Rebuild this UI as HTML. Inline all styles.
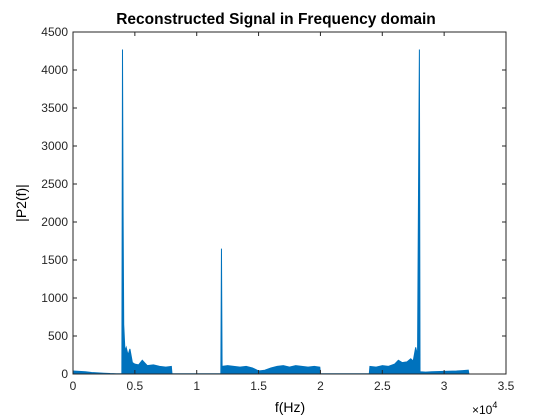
<!DOCTYPE html>
<html><head><meta charset="utf-8"><style>
body{margin:0;background:#fff;}
svg{display:block;font-family:"Liberation Sans",sans-serif;}
</style></head><body>
<svg id="chart" width="560" height="420">
<rect x="0" y="0" width="560" height="420" fill="#fff"/>
<g id="plot"></g>
<g id="axes"></g>
<text x="276" y="24" text-anchor="middle" font-size="15.5" font-weight="bold">Reconstructed Signal in Frequency domain</text>
<text x="290" y="412" text-anchor="middle" font-size="14">f(Hz)</text>
<text x="0" y="0" transform="translate(26,203) rotate(-90)" text-anchor="middle" font-size="14">|P2(f)|</text>
<text x="472" y="414" font-size="12">×10<tspan dy="-6" font-size="9">4</tspan></text>
</svg>
<script>
const freqK=[0,0.5,1,1.5,2,2.5,3,3.5,3.95,4.0,4.05,4.1,4.2,4.3,4.45,4.6,4.8,5.0,5.3,5.6,6,6.5,7,7.5,7.95,8.0,9,10,11,11.95,12.0,12.05,12.5,13,13.5,14,14.5,15,15.5,16,16.5,17,17.5,18,18.5,19,19.5,19.95,20.0,21,22,23,23.95,24.0,24.5,25,25.5,26,26.3,26.6,27,27.3,27.5,27.7,27.85,27.95,28.0,28.05,28.5,29,30,31,31.5,31.95,32.0,33,35];
const mags=[40,35,30,20,15,10,6,4,3,4270,2100,650,300,350,250,330,150,130,120,180,110,120,100,90,100,3,3,3,3,5,1650,100,110,100,90,100,80,40,50,80,100,110,90,110,100,90,100,90,3,3,3,3,3,100,90,110,100,130,180,150,160,200,170,350,250,3000,4270,30,25,30,35,40,45,50,0,0,0];
const xTicks=[0,0.5,1,1.5,2,2.5,3,3.5];
const xTickLabels=["0","0.5","1","1.5","2","2.5","3","3.5"];
const yTicks=[0,500,1000,1500,2000,2500,3000,3500,4000,4500];
const L=73,R=506,T=32,B=374;
const xs=f=>L+f/3.5*(R-L);
const ys=v=>B-v/4500*(B-T);
const NS="http://www.w3.org/2000/svg";
const plot=document.getElementById('plot'),axes=document.getElementById('axes');
function mk(tag,attrs,parent){const e=document.createElementNS(NS,tag);for(const k in attrs)e.setAttribute(k,attrs[k]);parent.appendChild(e);return e;}
let pts=freqK.map((f,i)=>xs(f/10).toFixed(2)+','+ys(mags[i]).toFixed(2));
const area=mk('polygon',{points:xs(0)+','+B+' '+pts.join(' ')+' '+xs(3.5)+','+B,fill:'#0072BD'},plot);


const line=mk('polyline',{points:pts.join(' '),fill:'none',stroke:'#0072BD','stroke-width':1},plot);


const box=mk('rect',{x:L,y:T,width:R-L,height:B-T,fill:'none',stroke:'#262626','stroke-width':1},axes);


xTicks.forEach((t,i)=>{const x=xs(t);
 mk('line',{x1:x,x2:x,y1:B,y2:B-4,stroke:'#262626'},axes);
 mk('line',{x1:x,x2:x,y1:T,y2:T+4,stroke:'#262626'},axes);
 const tx=mk('text',{x:x,y:B+16,'text-anchor':'middle','font-size':12,fill:'#262626'},axes);
 tx.textContent=xTickLabels[i];
 
 
});
yTicks.forEach(t=>{const y=ys(t);
 mk('line',{x1:L,x2:L+4,y1:y,y2:y,stroke:'#262626'},axes);
 mk('line',{x1:R,x2:R-4,y1:y,y2:y,stroke:'#262626'},axes);
 const tx=mk('text',{x:L-5,y:y+4,'text-anchor':'end','font-size':12,fill:'#262626'},axes);
 tx.textContent=String(t);
 
 
});
</script>
</body></html>
